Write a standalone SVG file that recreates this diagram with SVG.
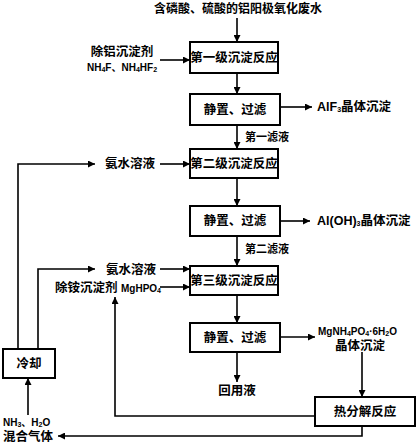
<svg xmlns="http://www.w3.org/2000/svg" width="417" height="444" viewBox="0 0 417 444">
<defs>
<marker id="ah" viewBox="0 0 10 10" refX="10" refY="5" markerWidth="7" markerHeight="7" markerUnits="userSpaceOnUse" orient="auto">
<path d="M0,0 L10,5 L0,10 z" fill="#000"/>
</marker>
<style>
text{font-family:"Liberation Sans","Noto Sans CJK SC",sans-serif;font-weight:bold;fill:#000;dominant-baseline:central}
.box{fill:#fff;stroke:#000;stroke-width:2}
.c{text-anchor:middle}
.b{font-size:12.5px}
.t{font-size:12px}
.s{font-size:10px}
.m{font-size:11px}
.sub{font-size:7px}
#connectors path{fill:none;stroke:#000;stroke-width:1.6}
#connectors .a{marker-end:url(#ah)}
</style>
</defs>
<rect width="417" height="444" fill="#fff"/>
<g id="connectors">
<path class="a" d="M237 18V42"/>
<path class="a" d="M237 73V94"/>
<path class="a" d="M237 125V149"/>
<path class="a" d="M237 178V206"/>
<path class="a" d="M237 236V266"/>
<path class="a" d="M237 295V323"/>
<path class="a" d="M237 352V382"/>
<path class="a" d="M160 60H190"/>
<path class="a" d="M280 107H312"/>
<path class="a" d="M160 164H190"/>
<path class="a" d="M280 221H310"/>
<path class="a" d="M160 269H190"/>
<path class="a" d="M160 287H190"/>
<path class="a" d="M280 337H315"/>
<path class="a" d="M18 349V164H95"/>
<path class="a" d="M38 349V269H95"/>
<path class="a" d="M362 352V397"/>
<path class="a" d="M315 416H115V297"/>
<path class="a" d="M362 426V436H58"/>
<path class="a" d="M28 415V378"/>
</g>
<g id="title"><text class="c t" x="238" y="9">含磷酸、硫酸的铝阳极氧化废水</text></g>
<g id="reagent1"><text class="c b" x="122" y="52">除铝沉淀剂</text><text class="c s" x="122" y="67">NH<tspan class="sub" dy="2">4</tspan><tspan dy="-2">F、NH</tspan><tspan class="sub" dy="2">4</tspan><tspan dy="-2">HF</tspan><tspan class="sub" dy="2">2</tspan></text></g>
<g id="stage1"><rect class="box" x="190" y="42" width="88" height="31"/><text class="c b" x="234" y="58">第一级沉淀反应</text></g>
<g id="filter1"><rect class="box" x="190" y="94" width="90" height="31"/><text class="c b" x="235" y="110">静置、过滤</text></g>
<g id="alf3"><text class="b" x="317" y="107">AlF<tspan class="sub" dy="2">3</tspan><tspan dy="-2">晶体沉淀</tspan></text></g>
<g id="filtrate1"><text class="m" x="245" y="137">第一滤液</text></g>
<g id="ammonia1"><text class="c b" x="130" y="164">氨水溶液</text></g>
<g id="stage2"><rect class="box" x="190" y="149" width="88" height="29"/><text class="c b" x="234" y="164">第二级沉淀反应</text></g>
<g id="filter2"><rect class="box" x="190" y="206" width="90" height="30"/><text class="c b" x="235" y="221">静置、过滤</text></g>
<g id="aloh3"><text class="b" x="317" y="221">Al(OH)<tspan class="sub" dy="2">3</tspan><tspan dy="-2">晶体沉淀</tspan></text></g>
<g id="filtrate2"><text class="m" x="245" y="249">第二滤液</text></g>
<g id="ammonia2"><text class="c b" x="131" y="270">氨水溶液</text></g>
<g id="reagent3"><text class="b" x="55" y="288">除铵沉淀剂 <tspan class="s">MgHPO</tspan><tspan class="sub" dy="2">4</tspan></text></g>
<g id="stage3"><rect class="box" x="190" y="266" width="88" height="29"/><text class="c b" x="234" y="281">第三级沉淀反应</text></g>
<g id="filter3"><rect class="box" x="190" y="323" width="90" height="29"/><text class="c b" x="235" y="338">静置、过滤</text></g>
<g id="struvite"><text class="s" x="318" y="331">MgNH<tspan class="sub" dy="2">4</tspan><tspan dy="-2">PO</tspan><tspan class="sub" dy="2">4</tspan><tspan dy="-2">·6H</tspan><tspan class="sub" dy="2">2</tspan><tspan dy="-2">O</tspan></text><text class="c b" x="360" y="346">晶体沉淀</text></g>
<g id="reuse"><text class="c b" x="237" y="391">回用液</text></g>
<g id="cooling"><rect class="box" x="3" y="349" width="52" height="29"/><text class="c b" x="29" y="364">冷却</text></g>
<g id="thermal"><rect class="box" x="315" y="397" width="100" height="29"/><text class="c b" x="365" y="412">热分解反应</text></g>
<g id="gas"><text class="s" x="3" y="422">NH<tspan class="sub" dy="2">3</tspan><tspan dy="-2">、H</tspan><tspan class="sub" dy="2">2</tspan><tspan dy="-2">O</tspan></text><text class="b" x="3" y="437">混合气体</text></g>
</svg>
